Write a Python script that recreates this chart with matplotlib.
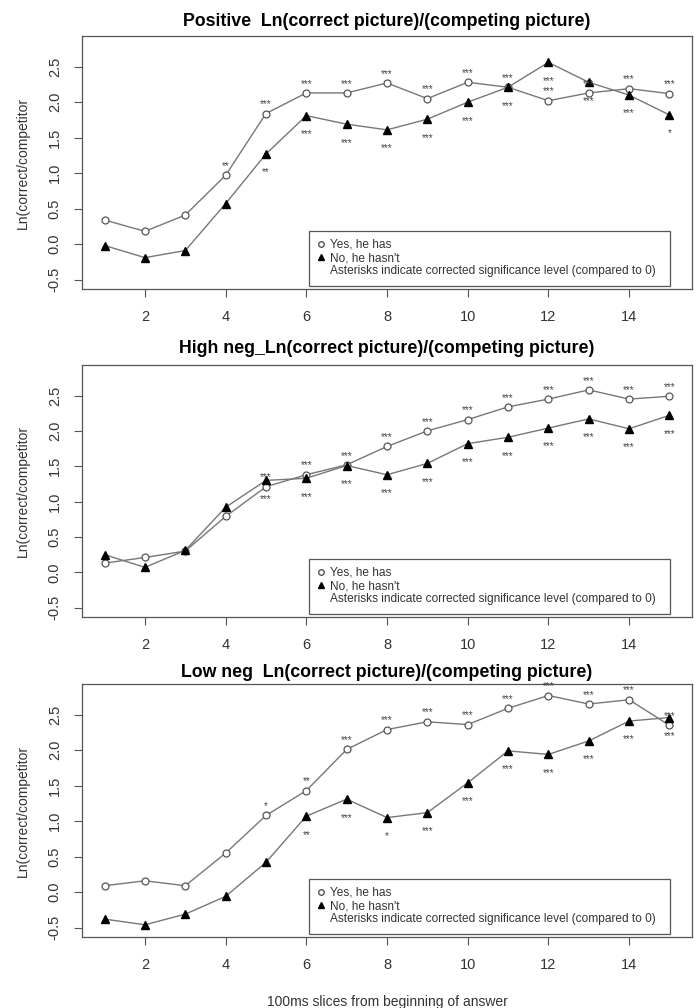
import matplotlib
matplotlib.use("Agg")
import matplotlib.pyplot as plt
from matplotlib.lines import Line2D

plt.rcParams['font.family'] = ['Liberation Sans', 'DejaVu Sans']

# 100ms slices
slices = list(range(1, 16))

titles = ["Positive  Ln(correct picture)/(competing picture)",
          "High neg_Ln(correct picture)/(competing picture)",
          "Low neg  Ln(correct picture)/(competing picture)"]

# "Yes, he has" / "No, he hasn't" per panel
yes_pos = [0.34, 0.18, 0.41, 0.97, 1.84, 2.13, 2.13, 2.27, 2.05, 2.28, 2.21, 2.02, 2.13, 2.19, 2.12]
no_pos = [-0.02, -0.19, -0.09, 0.57, 1.27, 1.81, 1.69, 1.61, 1.76, 2.00, 2.21, 2.56, 2.28, 2.10, 1.82]

yes_high = [0.13, 0.21, 0.30, 0.79, 1.21, 1.38, 1.52, 1.78, 2.00, 2.16, 2.34, 2.45, 2.58, 2.45, 2.49]
no_high = [0.25, 0.07, 0.31, 0.92, 1.30, 1.33, 1.51, 1.38, 1.54, 1.82, 1.91, 2.04, 2.17, 2.03, 2.22]

yes_low = [0.09, 0.16, 0.09, 0.55, 1.08, 1.43, 2.01, 2.29, 2.40, 2.36, 2.59, 2.77, 2.65, 2.71, 2.35]
no_low = [-0.38, -0.46, -0.31, -0.06, 0.42, 1.07, 1.31, 1.05, 1.12, 1.54, 1.99, 1.94, 2.13, 2.41, 2.46]

# significance stars (yes above points, no below)
sig_yes_pos = ['', '', '', '**'] + ['***'] * 11
sig_no_pos = ['', '', '', '', '**'] + ['***'] * 9 + ['*']
sig_yes_high = [''] * 4 + ['***'] * 11
sig_no_high = [''] * 4 + ['***'] * 11
sig_yes_low = [''] * 4 + ['*', '**'] + ['***'] * 9
sig_no_low = [''] * 5 + ['**', '***', '*', '***'] + ['***'] * 6

panels = [(yes_pos, no_pos, sig_yes_pos, sig_no_pos),
          (yes_high, no_high, sig_yes_high, sig_no_high),
          (yes_low, no_low, sig_yes_low, sig_no_low)]

W, H = 699, 1008
fig = plt.figure(figsize=(W / 100, H / 100), dpi=100)

# axes boxes in pixels (top, bottom) and title pads
boxes = [(36, 289), (365, 617), (684, 937)]
title_pads = [7, 8.5, 4.8]
left, right = 82, 692

line_col = '#777777'
text_col = '#333333'

for i, (yes, no, sy, sn) in enumerate(panels):
    top, bot = boxes[i]
    ax = fig.add_axes([left / W, 1 - bot / H, (right - left) / W, (bot - top) / H])

    ax.plot(slices, yes, color=line_col, lw=1, marker='o', ms=5,
            mfc='white', mec='#555555', mew=0.9)
    ax.plot(slices, no, color=line_col, lw=1, marker='^', ms=6,
            mfc='black', mec='black')

    for x, y, s in zip(slices, yes, sy):
        if s:
            ax.text(x, y + 0.13, s, ha='center', va='center', fontsize=7, color='#444444')
    for x, y, s in zip(slices, no, sn):
        if s:
            ax.text(x, y - 0.26, s, ha='center', va='center', fontsize=7, color='#444444')

    ax.set_xlim(0.44, 15.56)
    ax.set_ylim(-0.632, 2.932)
    ax.set_xticks([2, 4, 6, 8, 10, 12, 14])
    ax.set_yticks([-0.5, 0.0, 0.5, 1.0, 1.5, 2.0, 2.5])
    ax.set_yticklabels(['-0.5', '0.0', '0.5', '1.0', '1.5', '2.0', '2.5'],
                       rotation=90, va='center')
    ax.tick_params(length=6, width=0.8, color='#555555', labelsize=10.5,
                   labelcolor=text_col)
    ax.tick_params(axis='x', pad=9)
    ax.tick_params(axis='y', pad=8.5)
    for sp in ax.spines.values():
        sp.set_color('#555555')
        sp.set_linewidth(0.9)

    ax.set_title(titles[i], fontsize=12.8, fontweight='bold', pad=title_pads[i])
    ax.set_ylabel('Ln(correct/competitor', fontsize=10, color=text_col, labelpad=13)
    if i == 2:
        ax.set_xlabel('100ms slices from beginning of answer', fontsize=10,
                      color=text_col, labelpad=16.5)

    handles = [Line2D([], [], ls='none', marker='o', ms=4, mfc='white', mec='#555555'),
               Line2D([], [], ls='none', marker='^', ms=5, mfc='black', mec='black'),
               Line2D([], [], ls='none')]
    labels = ["Yes, he has", "No, he hasn't",
              "Asterisks indicate corrected significance level (compared to 0)"]
    leg = ax.legend(handles, labels, loc='lower left',
                    bbox_to_anchor=(0.372, 0.013, 0.5925, 0.224), mode='expand',
                    borderaxespad=0, fontsize=8.6, handlelength=0.6,
                    handletextpad=0.45, labelspacing=0.1, borderpad=0.7,
                    fancybox=False, framealpha=1)
    leg.get_frame().set_edgecolor('#555555')
    leg.get_frame().set_linewidth(0.9)
    for t in leg.get_texts():
        t.set_color(text_col)

fig.savefig('out.png', dpi=100)
